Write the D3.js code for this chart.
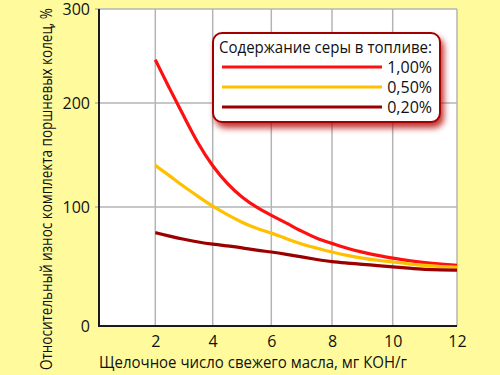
<!DOCTYPE html>
<html>
<head>
<meta charset="utf-8">
<script src="https://cdn.jsdelivr.net/npm/d3@7"></script>
<style>
    body { margin: 0; background: #fffb9c; }
    svg { display: block; }
    text { font-family: "Open Sans", "Noto Sans", sans-serif; fill: #111; }
</style>
</head>
<body>
<svg class="main" width="500" height="375"></svg>
<script>
const alkali = [2, 2.5, 3, 3.5, 4, 4.5, 5, 5.5, 6, 6.5, 7, 7.5, 8, 8.5, 9, 9.5, 10, 10.5, 11, 11.5, 12],
    sulfur100 = [246, 215, 187, 160, 139, 122, 109, 99.5, 93, 86.5, 79.5, 73.5, 69.5, 65.2, 62, 59.3, 57.1, 54.8, 53.2, 52, 51],
    sulfur050 = [140, 130, 119.5, 110, 100.5, 93.5, 87, 81.8, 78.3, 73.3, 68.7, 65.5, 62, 59.3, 57, 55.2, 53.8, 52.2, 50.8, 49.9, 49.3],
    sulfur020 = [78.5, 75.5, 72.8, 70.5, 68.7, 67.3, 65.8, 63.6, 62.3, 60.3, 58, 55.9, 53.9, 52.9, 51.8, 50.8, 49.7, 48.6, 47.5, 47.1, 47],
    seriesNames = ['1,00%', '0,50%', '0,20%'],
    xTicks = [2, 4, 6, 8, 10, 12],
    yTicks = [0, 100, 200, 300],
    legendTitle = 'Содержание серы в топливе:',
    xTitle = 'Щелочное число свежего масла, мг КОН/г',
    yTitle = 'Относительный износ комплекта поршневых колец, %';

const colors = ['#ff1010', '#ffc000', '#9a0000'],
    series = [sulfur100, sulfur050, sulfur020],
    plotLeft = 99, plotRight = 457, plotTop = 9, plotBottom = 326;

// the picture's axes are drawn by hand, so the spacing is not even
const x = d3.scaleLinear()
    .domain([0.13, 2, 4, 6, 8, 10, 12])
    .range([plotLeft, 155.3, 212.7, 271.3, 332, 392.7, plotRight]);

const y = d3.scaleLinear()
    .domain([0, 100, 200, 300])
    .range([plotBottom, 207, 103, plotTop]);

const svg = d3.select('svg.main');

const defs = svg.append('defs');
defs.append('filter')
    .attr('id', 'shadow')
    .attr('x', '-20%').attr('y', '-20%')
    .attr('width', '140%').attr('height', '150%')
    .append('feDropShadow')
    .attr('dx', 3).attr('dy', 5)
    .attr('stdDeviation', 3)
    .attr('flood-color', '#b00000')
    .attr('flood-opacity', 0.8);

svg.append('rect')
    .attr('x', plotLeft).attr('y', plotTop)
    .attr('width', plotRight - plotLeft).attr('height', plotBottom - plotTop)
    .attr('fill', '#fff');

// grid
svg.append('g')
    .selectAll('line')
    .data(xTicks)
    .join('line')
    .attr('x1', d => x(d)).attr('x2', d => x(d))
    .attr('y1', plotTop).attr('y2', plotBottom)
    .attr('stroke', '#b4b4b4')
    .attr('stroke-width', 1.5);

svg.append('g')
    .selectAll('line')
    .data(yTicks.slice(1))
    .join('line')
    .attr('x1', plotLeft - 4).attr('x2', plotRight)
    .attr('y1', d => y(d)).attr('y2', d => y(d))
    .attr('stroke', '#b4b4b4')
    .attr('stroke-width', 1.5);

// axes
const yAxis = svg.append('g')
    .attr('transform', 'translate(' + plotLeft + ',0)')
    .call(d3.axisLeft(y).tickValues(yTicks).tickSize(0).tickPadding(9));
yAxis.select('.domain').remove();
yAxis.selectAll('text')
    .attr('font-size', 16)
    .attr('font-family', '"Open Sans", sans-serif')
    .attr('fill', '#111');

const xAxis = svg.append('g')
    .attr('transform', 'translate(0,' + plotBottom + ')')
    .call(d3.axisBottom(x).tickValues(xTicks).tickSize(0).tickPadding(10));
xAxis.select('.domain').remove();
xAxis.selectAll('text')
    .attr('font-size', 16)
    .attr('font-family', '"Open Sans", sans-serif')
    .attr('fill', '#111');

svg.append('line')
    .attr('x1', plotLeft).attr('x2', plotLeft)
    .attr('y1', plotTop).attr('y2', plotBottom + 1)
    .attr('stroke', '#1a1a1a').attr('stroke-width', 2);
svg.append('line')
    .attr('x1', plotLeft - 1).attr('x2', plotRight)
    .attr('y1', plotBottom).attr('y2', plotBottom)
    .attr('stroke', '#1a1a1a').attr('stroke-width', 2);

// curves
const line = d3.line()
    .x((d, i) => x(alkali[i]))
    .y(d => y(d))
    .curve(d3.curveBasis);

svg.append('g')
    .selectAll('path')
    .data(series)
    .join('path')
    .attr('d', line)
    .attr('fill', 'none')
    .attr('stroke', (d, i) => colors[i])
    .attr('stroke-width', 3.2)
    .attr('stroke-linejoin', 'round');

// legend
const legend = svg.append('g').attr('transform', 'translate(213,33)');

legend.append('rect')
    .attr('width', 227).attr('height', 89)
    .attr('rx', 9)
    .attr('fill', '#fff')
    .attr('stroke', '#a00000')
    .attr('stroke-width', 2)
    .attr('filter', 'url(#shadow)');

legend.append('text')
    .attr('x', 6).attr('y', 20)
    .attr('font-size', 16)
    .attr('textLength', 213)
    .attr('lengthAdjust', 'spacingAndGlyphs')
    .text(legendTitle);

const rows = legend.selectAll('g.row')
    .data(seriesNames)
    .join('g')
    .attr('class', 'row')
    .attr('transform', (d, i) => 'translate(0,' + (34 + i * 20) + ')');

rows.append('line')
    .attr('x1', 9).attr('x2', 169)
    .attr('stroke', (d, i) => colors[i])
    .attr('stroke-width', 3.2);

rows.append('text')
    .attr('x', 219).attr('y', 6)
    .attr('text-anchor', 'end')
    .attr('font-size', 16)
    .text(d => d);

// titles
svg.append('text')
    .attr('x', plotLeft).attr('y', 368)
    .attr('font-size', 17)
    .attr('textLength', 308)
    .attr('lengthAdjust', 'spacingAndGlyphs')
    .text(xTitle);

svg.append('text')
    .attr('transform', 'translate(52,370) rotate(-90)')
    .attr('font-size', 17)
    .attr('textLength', 362)
    .attr('lengthAdjust', 'spacingAndGlyphs')
    .text(yTitle);
</script>
</body>
</html>
